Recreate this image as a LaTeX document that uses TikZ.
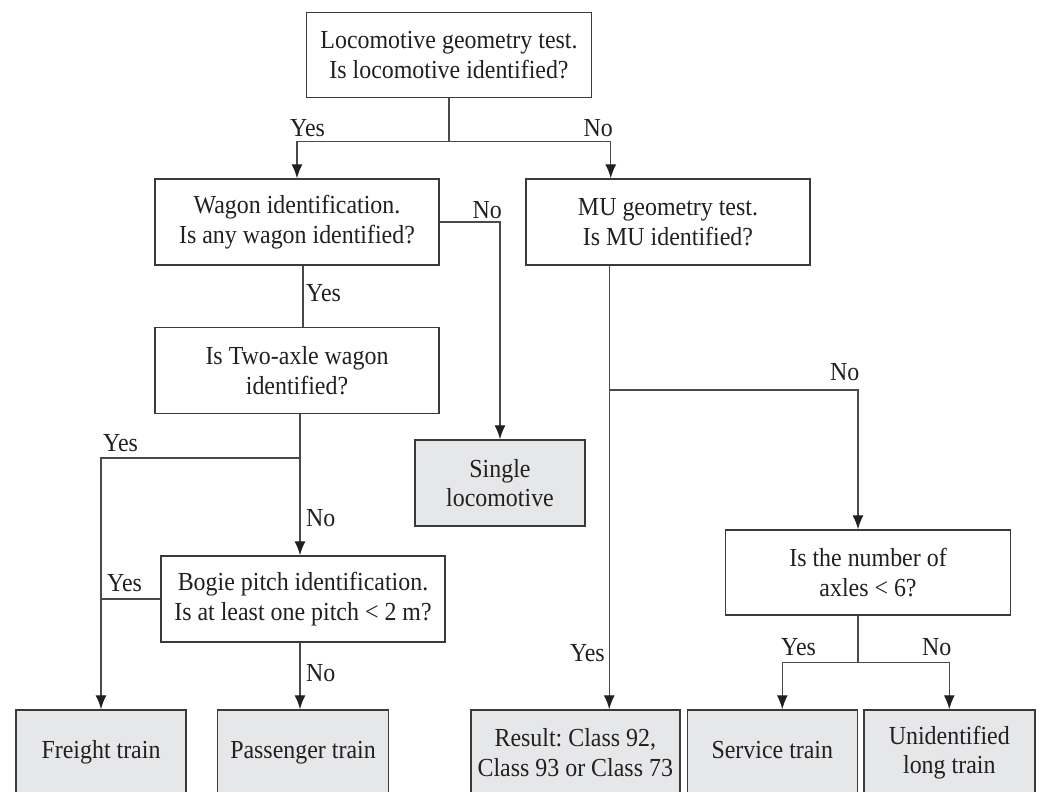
\documentclass[tikz,border=0pt]{standalone}
\usepackage{fontspec}
\setmainfont{Liberation Serif}[FakeStretch=0.92]
\usetikzlibrary{arrows.meta}
\definecolor{boxline}{HTML}{3A3A3A}
\definecolor{linkgray}{HTML}{4A4A4A}
\definecolor{boxfill}{HTML}{E6E7E8}
\definecolor{inkblack}{HTML}{231F20}
\frenchspacing

\begin{document}
\begin{tikzpicture}[x=1pt, y=-1pt, font=\fontsize{26}{29.5}\selectfont, text=inkblack]
    \tikzstyle{question} = [rectangle, minimum width=284pt, minimum height=86pt, align=center, inner sep=0pt, draw=boxline, line width=1.5pt]
    \tikzstyle{outcome} = [rectangle, minimum width=170pt, minimum height=85pt, align=center, inner sep=0pt, draw=boxline, line width=1.5pt, fill=boxfill]
    \tikzstyle{oneline} = [text height=17.8pt, text depth=5.6pt]
    \tikzstyle{answer} = [inner sep=0pt]
    \tikzstyle{link} = [draw=linkgray, line width=1.3pt]
    \tikzstyle{arrow} = [link, -{Latex[length=14pt, width=11pt, color=inkblack]}]

    \useasboundingbox (0,0) rectangle (1039,792);
    \clip (0,0) rectangle (1039,792);

    % Nodes
    \node (q_loco) [question, minimum width=285pt, minimum height=85pt] at (449,55) {Locomotive geometry test.\\Is locomotive identified?};
    \node (q_wagon) [question] at (297,222) {Wagon identification.\\Is any wagon identified?};
    \node (q_mu) [question] at (668,222) {MU geometry test.\\Is MU identified?};
    \node (q_twoaxle) [question] at (297,370.5) {Is Two-axle wagon\\identified?};
    \node (r_single) [outcome, minimum height=86pt] at (500,483) {Single\\locomotive};
    \node (q_bogie) [question] at (303,599) {Bogie pitch identification.\\Is at least one pitch < 2 m?};
    \node (q_axles) [question, minimum width=285pt, minimum height=85pt] at (868,572.5) {Is the number of\\axles < 6?};
    \node (r_freight) [outcome, oneline] at (101,752.5) {Freight train};
    \node (r_passenger) [outcome, oneline, minimum width=171pt] at (303,752.5) {Passenger train};
    \node (r_class) [outcome, minimum width=209pt] at (575.3,752.5) {Result: Class 92,\\Class 93 or Class 73};
    \node (r_service) [outcome, oneline] at (772.3,752.5) {Service train};
    \node (r_long) [outcome, minimum width=171pt] at (949.3,752.5) {Unidentified\\long train};

    % Answers
    \node (a_loco_yes) [answer, anchor=base west] at (290,136) {Yes};
    \node (a_loco_no) [answer, anchor=base east] at (613,136) {No};
    \node (a_wagon_no) [answer, anchor=base east] at (502,218) {No};
    \node (a_wagon_yes) [answer, anchor=base west] at (306,301) {Yes};
    \node (a_twoaxle_yes) [answer, anchor=base west] at (103,451.5) {Yes};
    \node (a_twoaxle_no) [answer, anchor=base west] at (306,526.5) {No};
    \node (a_bogie_yes) [answer, anchor=base west] at (107,591.5) {Yes};
    \node (a_bogie_no) [answer, anchor=base west] at (306,681) {No};
    \node (a_mu_no) [answer, anchor=base east] at (859.5,380) {No};
    \node (a_mu_yes) [answer, anchor=base east] at (605,661.5) {Yes};
    \node (a_axles_yes) [answer, anchor=base west] at (781,655) {Yes};
    \node (a_axles_no) [answer, anchor=base east] at (951.5,655) {No};

    % Arrows
    \draw [link] (q_loco.south) -- ++(0,43.3) coordinate (lsplit);
    \draw [arrow] (lsplit) -| (q_wagon.north);
    \draw [arrow] (lsplit) -| ([xshift=85.5pt]q_mu.north west);
    \draw [arrow] (q_wagon.east) -| (r_single.north);
    \draw [link] ([xshift=6pt]q_wagon.south) -- ([xshift=6pt]q_twoaxle.north);
    \draw [link] ([xshift=3pt]q_twoaxle.south) -- ++(0,43.6) coordinate (tsplit);
    \draw [arrow] (tsplit) -- (tsplit |- q_bogie.north);
    \draw [arrow] (tsplit) -| (r_freight.north);
    \draw [link] (q_bogie.west) -- (q_bogie.west -| r_freight.north);
    \draw [arrow] ([xshift=-3pt]q_bogie.south) -- ([xshift=-3pt]r_passenger.north);
    \draw [link] ([xshift=84pt]q_mu.south west) -- ++(0,124.3) coordinate (musplit);
    \draw [arrow] (musplit) -- (musplit |- r_class.north);
    \draw [arrow] (musplit) -| ([xshift=-10pt]q_axles.north);
    \draw [link] ([xshift=-10pt]q_axles.south) -- ++(0,47) coordinate (asplit);
    \draw [arrow] (asplit) -| ([xshift=10pt]r_service.north);
    \draw [arrow] (asplit) -| (r_long.north);
\end{tikzpicture}
\end{document}
